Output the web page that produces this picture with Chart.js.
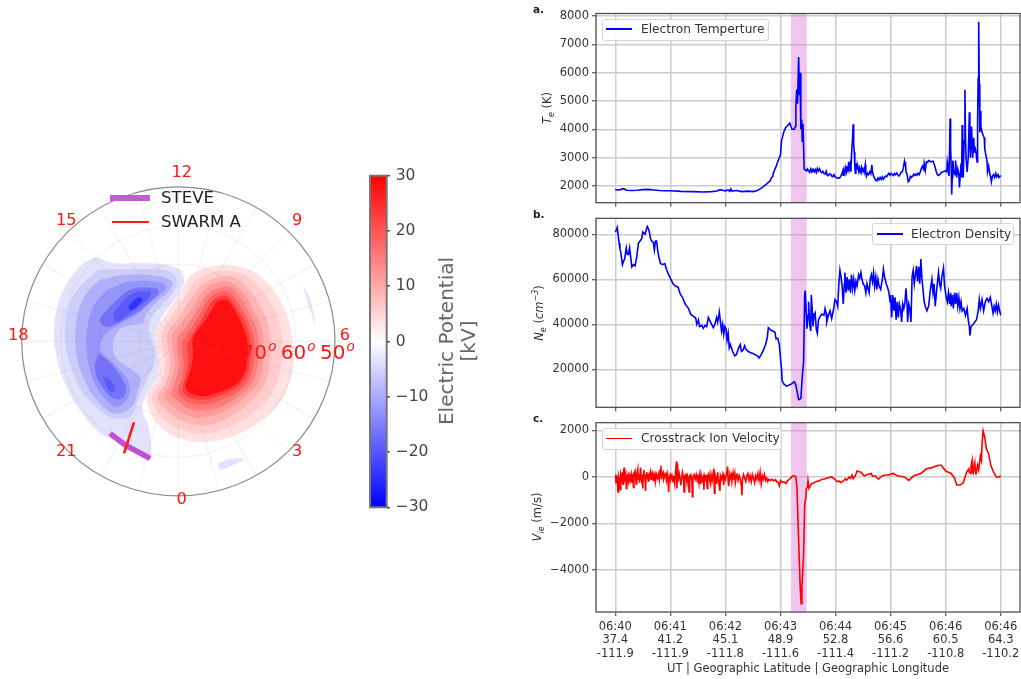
<!DOCTYPE html>
<html>
<head>
<meta charset="utf-8">
<title>STEVE SWARM A</title>
<script src="https://cdn.jsdelivr.net/npm/chart.js@4"></script>
<style>
  html, body { margin: 0; padding: 0; background: #fff; width: 1021px; height: 679px; overflow: hidden; }
  body { position: relative; font-family: "DejaVu Sans", sans-serif; filter: blur(0.45px); }
  canvas, .txt, .legend, .swatch { position: absolute; }
  .txt { white-space: nowrap; color: #333; }
  .rot { transform: translate(-50%, -50%) rotate(-90deg); }
  .legend { background: rgba(255,255,255,0.85); border: 1px solid #d5d5d5; border-radius: 3px; box-sizing: border-box; }
  sub, sup { font-size: 70%; line-height: 0; }
</style>
</head>
<body>
<canvas id="polar" style="left:0;top:150px"></canvas>
<canvas id="cbar" style="left:360px;top:165px"></canvas>
<canvas id="panelA" style="left:530px;top:0"></canvas>
<canvas id="panelB" style="left:530px;top:205px"></canvas>
<canvas id="panelC" style="left:530px;top:415px"></canvas>

<!-- polar legend -->
<div class="swatch" style="left:110px;top:194.5px;width:40px;height:6.5px;background:#c45ad8"></div>
<div class="swatch" style="left:112px;top:220.5px;width:36.5px;height:2.7px;background:#ff1a1a"></div>
<div class="txt" style="left:161px;top:188px;font-size:16.6px;color:#222">STEVE</div>
<div class="txt" style="left:161px;top:212px;font-size:16.6px;color:#222">SWARM A</div>

<!-- colorbar title -->
<div class="txt rot" style="left:446px;top:341px;font-size:20px;color:#666">Electric Potential</div>
<div class="txt rot" style="left:468px;top:341px;font-size:20px;color:#666">[kV]</div>

<!-- panel letters -->
<div class="txt" style="left:533px;top:3px;font-size:10.5px;font-weight:bold;color:#222">a.</div>
<div class="txt" style="left:533px;top:208px;font-size:10.5px;font-weight:bold;color:#222">b.</div>
<div class="txt" style="left:533px;top:412px;font-size:10.5px;font-weight:bold;color:#222">c.</div>

<!-- y axis titles -->
<div class="txt rot" style="left:546.5px;top:108px;font-size:11.5px"><i>T<sub>e</sub></i> (K)</div>
<div class="txt rot" style="left:539px;top:313px;font-size:11.5px"><i>N<sub>e</sub></i> (<i>cm<sup>−3</sup></i>)</div>
<div class="txt rot" style="left:537px;top:517px;font-size:11.5px"><i>V<sub>ie</sub></i> (m/s)</div>

<!-- panel legends -->
<div class="legend" style="left:602px;top:19px;width:167px;height:22px"></div>
<div class="swatch" style="left:606px;top:28.2px;width:26px;height:1.7px;background:#0000ff"></div>
<div class="txt" style="left:641px;top:22px;font-size:12.2px">Electron Temperture</div>

<div class="legend" style="left:872px;top:223px;width:142px;height:22px"></div>
<div class="swatch" style="left:877px;top:233px;width:26px;height:1.7px;background:#0000ff"></div>
<div class="txt" style="left:911px;top:226.5px;font-size:12.2px">Electron Density</div>

<div class="legend" style="left:602px;top:428px;width:180px;height:22px"></div>
<div class="swatch" style="left:606px;top:437.5px;width:26px;height:1.7px;background:#ff0000"></div>
<div class="txt" style="left:641px;top:431px;font-size:12.2px">Crosstrack Ion Velocity</div>

<script>
// tick labels
const utLabels = ['06:40', '06:41', '06:42', '06:43', '06:44', '06:45', '06:46', '06:46'];
const latLabels = ['37.4', '41.2', '45.1', '48.9', '52.8', '56.6', '60.5', '64.3'];
const lonLabels = ['-111.9', '-111.9', '-111.8', '-111.6', '-111.4', '-111.2', '-110.8', '-110.2'];
const xTicks = [0, 1, 2, 3, 4, 5, 6, 7];
const teTicks = [2000, 3000, 4000, 5000, 6000, 7000, 8000];
const neTicks = [20000, 40000, 60000, 80000];
const viTicks = [-4000, -2000, 0, 2000];
const cbarTicks = [-30, -20, -10, 0, 10, 20, 30];

// STEVE crossing, in minutes after 06:40
const steveSpan = [3.19, 3.477];

// [minutes after 06:40, value]
const teSeries = [[0,1870],[.05,1860],[.1,1870],[.13,1905],[.17,1890],[.2,1850],[.3,1840],[.4,1850],[.5,1870],[.6,1880],[.7,1860],[.8,1840],[.9,1830],[1,1830],[1.2,1810],[1.4,1800],[1.6,1790],[1.75,1800],[1.85,1820],[1.9,1870],[1.95,1850],[2,1830],[2.05,1860],[2.08,1810],[2.1,1900],[2.12,1820],[2.2,1840],[2.3,1800],[2.4,1820],[2.5,1800],[2.57,1830],[2.63,1900],[2.69,1980],[2.74,2060],[2.78,2130],[2.81,2170],[2.84,2300],[2.86,2330],[2.87,2450],[2.9,2600],[2.92,2680],[2.94,2800],[2.96,2900],[2.98,3000],[3,3100],[3.02,3600],[3.04,3750],[3.06,3900],[3.09,4050],[3.11,4100],[3.14,4150],[3.17,4220],[3.19,4100],[3.21,4000],[3.25,4000],[3.27,4100],[3.28,4800],[3.295,5400],[3.31,4900],[3.33,6550],[3.345,5200],[3.355,6000],[3.37,4000],[3.385,4350],[3.395,3550],[3.41,4200],[3.43,2600],[3.477,2530],[3.49,2600],[3.51,2540],[3.53,2480],[3.55,2600],[3.57,2500],[3.59,2590],[3.61,2500],[3.63,2580],[3.65,2480],[3.67,2620],[3.69,2530],[3.71,2600],[3.73,2500],[3.75,2470],[3.77,2520],[3.79,2440],[3.81,2420],[3.83,2520],[3.85,2380],[3.87,2370],[3.89,2430],[3.91,2420],[3.93,2350],[3.95,2330],[3.97,2400],[3.99,2330],[4.01,2300],[4.03,2290],[4.05,2270],[4.07,2280],[4.09,2330],[4.11,2400],[4.13,2520],[4.14,2380],[4.15,2560],[4.17,2450],[4.18,2650],[4.2,2500],[4.21,2700],[4.22,2500],[4.24,2850],[4.25,2600],[4.27,2800],[4.28,2500],[4.29,3100],[4.31,3700],[4.32,4180],[4.33,3500],[4.34,3200],[4.35,2700],[4.36,2450],[4.37,2800],[4.39,2600],[4.4,2700],[4.42,2520],[4.43,2650],[4.45,2500],[4.47,2650],[4.48,2500],[4.5,2600],[4.52,2480],[4.54,2750],[4.55,2450],[4.56,2340],[4.58,2450],[4.6,2400],[4.62,2500],[4.64,2430],[4.66,2750],[4.67,2500],[4.69,2350],[4.71,2280],[4.73,2200],[4.75,2180],[4.77,2280],[4.79,2220],[4.81,2300],[4.83,2230],[4.85,2320],[4.87,2240],[4.89,2300],[4.91,2350],[4.93,2330],[4.95,2400],[4.97,2450],[4.99,2380],[5.01,2440],[5.03,2400],[5.05,2370],[5.07,2440],[5.09,2400],[5.11,2460],[5.13,2400],[5.15,2350],[5.17,2400],[5.19,2480],[5.21,2500],[5.23,2620],[5.25,2850],[5.26,2700],[5.27,2850],[5.28,2500],[5.3,2400],[5.32,2150],[5.34,2200],[5.36,2340],[5.38,2300],[5.4,2350],[5.42,2420],[5.44,2370],[5.46,2420],[5.48,2380],[5.5,2450],[5.52,2400],[5.54,2500],[5.56,2620],[5.58,2700],[5.6,2600],[5.61,2800],[5.63,2550],[5.65,2850],[5.67,2830],[5.69,2900],[5.71,2880],[5.73,2850],[5.75,2860],[5.77,2880],[5.79,2780],[5.81,2650],[5.83,2500],[5.85,2400],[5.87,2370],[5.89,2400],[5.92,2470],[5.95,2500],[5.98,2520],[6,2540],[6.02,2500],[6.03,2850],[6.05,2600],[6.06,2350],[6.07,3200],[6.08,4380],[6.09,3400],[6.1,2700],[6.11,1700],[6.12,2300],[6.13,2900],[6.15,2500],[6.17,2400],[6.18,2900],[6.2,2300],[6.22,2600],[6.24,2400],[6.25,1950],[6.27,2500],[6.28,2800],[6.29,2300],[6.3,4150],[6.31,3000],[6.32,2300],[6.335,3600],[6.35,5400],[6.36,3800],[6.37,3000],[6.39,2500],[6.41,3000],[6.43,4600],[6.44,3600],[6.45,3000],[6.47,4100],[6.48,3500],[6.49,3000],[6.51,3700],[6.52,3200],[6.53,3400],[6.55,3200],[6.57,2850],[6.58,4300],[6.59,5800],[6.6,7800],[6.61,5600],[6.62,3900],[6.63,4650],[6.64,4100],[6.66,3900],[6.68,3800],[6.7,3700],[6.71,3300],[6.73,3100],[6.75,2900],[6.76,2500],[6.78,2700],[6.8,2450],[6.82,2300],[6.83,2150],[6.85,2350],[6.87,2400],[6.89,2300],[6.91,2450],[6.93,2330],[6.95,2400],[6.97,2300],[7,2370]];

const neSeries = [[0,81000],[.02,82000],[.036,83000],[.05,80000],[.07,76000],[.085,73500],[.1,72000],[.13,66500],[.15,68000],[.17,69000],[.2,74000],[.22,71000],[.24,71000],[.26,74000],[.28,70000],[.3,65500],[.33,66500],[.36,66000],[.39,70000],[.42,76000],[.45,77000],[.48,78000],[.5,81000],[.54,80000],[.58,83500],[.6,82500],[.62,81000],[.64,78000],[.66,77000],[.69,76500],[.71,73000],[.73,77000],[.75,77000],[.77,73000],[.79,70000],[.82,67000],[.86,66500],[.9,67000],[.93,64500],[.96,62500],[1,60500],[1.05,58000],[1.09,57000],[1.14,56500],[1.18,53500],[1.22,52000],[1.27,49000],[1.33,47000],[1.37,44500],[1.42,43500],[1.46,42800],[1.48,40000],[1.51,42000],[1.53,39000],[1.57,39500],[1.6,38200],[1.63,39500],[1.66,39000],[1.69,43000],[1.72,41500],[1.75,40000],[1.78,38500],[1.81,40000],[1.84,43000],[1.86,41000],[1.89,45500],[1.91,41000],[1.93,37000],[1.95,40000],[1.97,35500],[1.99,39000],[2.01,38000],[2.03,33000],[2.05,36000],[2.07,29500],[2.09,31000],[2.13,28000],[2.17,26000],[2.2,26500],[2.24,29500],[2.27,31000],[2.29,28000],[2.32,28500],[2.35,30500],[2.37,29000],[2.41,28000],[2.45,27500],[2.5,27000],[2.54,26500],[2.58,26000],[2.61,25000],[2.65,26500],[2.69,28500],[2.73,31000],[2.76,34000],[2.78,38500],[2.82,37500],[2.86,37000],[2.9,36500],[2.92,33500],[2.95,33800],[2.98,31000],[3,25000],[3.02,20000],[3.03,15000],[3.06,13500],[3.11,12500],[3.16,13000],[3.2,13500],[3.25,14500],[3.28,13000],[3.295,11000],[3.33,6500],[3.37,7000],[3.4,18000],[3.42,23000],[3.44,53000],[3.45,55000],[3.47,44000],[3.48,38000],[3.5,44000],[3.51,50000],[3.53,40000],[3.55,37000],[3.56,53000],[3.58,45000],[3.59,39000],[3.61,44000],[3.63,45000],[3.65,38000],[3.67,36000],[3.69,42000],[3.71,43000],[3.75,44500],[3.79,44000],[3.81,47000],[3.83,45000],[3.84,41000],[3.87,44000],[3.9,46000],[3.93,42500],[3.96,46000],[3.99,51000],[4.02,50000],[4.04,48000],[4.06,58000],[4.08,64000],[4.1,61000],[4.12,57000],[4.14,49000],[4.16,58000],[4.17,63000],[4.19,54000],[4.21,61000],[4.23,55000],[4.25,60000],[4.27,54000],[4.29,62000],[4.31,56000],[4.33,60000],[4.35,55000],[4.37,59000],[4.39,57000],[4.42,62000],[4.44,60500],[4.46,63000],[4.48,60000],[4.5,58000],[4.53,57000],[4.55,54000],[4.57,58000],[4.59,56000],[4.61,54000],[4.63,60000],[4.65,62000],[4.67,59000],[4.69,63000],[4.71,57000],[4.73,61000],[4.75,55500],[4.77,60000],[4.79,57000],[4.82,55500],[4.85,60000],[4.87,64500],[4.89,61000],[4.92,58000],[4.95,56000],[4.97,54000],[4.99,50000],[5,53000],[5.02,43000],[5.04,53000],[5.06,46000],[5.08,52000],[5.1,42000],[5.12,50000],[5.14,43000],[5.16,49000],[5.18,47000],[5.2,41000],[5.22,49000],[5.24,47000],[5.26,49500],[5.28,56000],[5.3,48000],[5.31,41000],[5.33,49000],[5.35,47000],[5.37,41000],[5.39,61000],[5.41,64000],[5.43,58000],[5.45,62000],[5.47,66000],[5.49,59000],[5.51,65500],[5.53,58000],[5.55,69000],[5.57,60000],[5.59,55000],[5.61,50000],[5.63,48000],[5.66,46000],[5.69,48000],[5.72,55000],[5.75,60000],[5.77,54000],[5.79,58000],[5.81,48000],[5.84,56000],[5.87,63000],[5.89,58000],[5.91,56000],[5.93,61000],[5.96,65000],[5.98,57000],[6.01,52000],[6.03,50000],[6.05,54000],[6.07,49000],[6.09,54000],[6.1,48000],[6.12,53000],[6.14,47000],[6.16,54000],[6.18,49000],[6.2,54000],[6.22,48000],[6.24,52000],[6.26,47000],[6.28,50000],[6.3,46000],[6.33,47000],[6.36,44000],[6.39,47000],[6.41,42000],[6.43,39000],[6.44,35000],[6.46,39000],[6.5,40000],[6.53,41000],[6.56,42000],[6.59,46000],[6.61,51000],[6.63,47000],[6.66,51000],[6.69,46000],[6.72,50000],[6.75,51500],[6.78,50000],[6.81,52000],[6.84,48000],[6.86,45000],[6.88,48000],[6.9,46000],[6.92,49000],[6.94,45500],[6.96,48500],[6.98,46000],[7,44000]];

const viSeries = [[0,-250],[.01,100],[.02,-100],[.03,50],[.05,-650],[.06,50],[.07,-50],[.09,-550],[.1,100],[.12,-100],[.13,200],[.14,-350],[.15,150],[.16,400],[.17,-100],[.19,100],[.2,-500],[.21,0],[.23,100],[.24,-200],[.26,50],[.27,-150],[.29,100],[.3,-250],[.32,0],[.33,-450],[.34,100],[.36,250],[.38,-300],[.39,100],[.41,350],[.42,-100],[.43,100],[.44,-250],[.46,400],[.47,-100],[.48,-200],[.49,100],[.5,-500],[.51,100],[.52,300],[.53,-100],[.54,100],[.55,-600],[.56,50],[.57,200],[.59,-50],[.6,150],[.61,-200],[.62,100],[.64,250],[.65,-100],[.66,100],[.68,200],[.69,-150],[.7,50],[.72,150],[.73,-200],[.75,100],[.77,-50],[.79,150],[.8,-100],[.82,300],[.83,480],[.84,-100],[.85,100],[.87,200],[.88,-100],[.9,50],[.92,150],[.93,-150],[.95,100],[.96,-250],[.97,-650],[.98,0],[1,100],[1.01,-100],[1.03,50],[1.05,-200],[1.06,50],[1.08,-300],[1.09,50],[1.11,660],[1.12,-500],[1.13,550],[1.14,-200],[1.16,150],[1.18,-100],[1.19,-350],[1.21,50],[1.22,200],[1.24,-100],[1.25,-650],[1.26,50],[1.28,100],[1.3,-250],[1.31,50],[1.33,-100],[1.34,-650],[1.35,50],[1.37,100],[1.39,-200],[1.4,-850],[1.41,0],[1.43,100],[1.45,-100],[1.47,100],[1.49,-200],[1.5,100],[1.52,-250],[1.53,50],[1.55,-300],[1.56,100],[1.58,-150],[1.6,0],[1.61,-550],[1.62,50],[1.64,-100],[1.65,100],[1.67,-500],[1.68,50],[1.7,150],[1.71,-100],[1.73,-300],[1.74,100],[1.76,-150],[1.79,350],[1.8,-700],[1.81,100],[1.83,-100],[1.84,-300],[1.86,200],[1.87,-100],[1.88,-250],[1.9,-600],[1.91,50],[1.93,-100],[1.95,100],[1.97,-350],[1.98,50],[2,-100],[2.02,100],[2.04,450],[2.05,-200],[2.06,-400],[2.08,100],[2.09,-50],[2.11,100],[2.12,-200],[2.14,150],[2.15,-100],[2.17,150],[2.18,-250],[2.2,50],[2.21,150],[2.23,-150],[2.25,50],[2.27,-100],[2.29,-400],[2.3,-800],[2.31,-100],[2.33,100],[2.35,-50],[2.37,-200],[2.39,50],[2.41,150],[2.43,-150],[2.45,50],[2.47,-200],[2.49,100],[2.51,-50],[2.53,-250],[2.55,50],[2.57,-100],[2.59,150],[2.61,-150],[2.63,200],[2.65,-300],[2.67,50],[2.69,-100],[2.71,100],[2.73,-150],[2.75,-50],[2.77,-200],[2.79,-100],[2.82,-150],[2.85,-100],[2.88,-170],[2.91,-120],[2.94,-220],[2.96,-250],[2.98,-380],[3,-150],[3.03,-230],[3.06,-200],[3.1,-280],[3.13,-170],[3.16,-100],[3.19,-40],[3.22,40],[3.25,50],[3.28,0],[3.3,-500],[3.32,-2000],[3.345,-3800],[3.36,-4800],[3.375,-5450],[3.39,-4700],[3.405,-4000],[3.42,-3300],[3.44,-1200],[3.46,-900],[3.47,-500],[3.49,-450],[3.5,-150],[3.52,-500],[3.56,-300],[3.6,-260],[3.65,-200],[3.7,-180],[3.75,-100],[3.8,-90],[3.85,-50],[3.93,0],[3.99,-100],[4.03,-200],[4.07,-180],[4.1,-250],[4.15,-150],[4.18,-80],[4.2,-140],[4.25,0],[4.27,-60],[4.3,80],[4.32,-70],[4.36,50],[4.39,250],[4.46,200],[4.52,50],[4.58,100],[4.65,150],[4.67,30],[4.72,50],[4.78,-100],[4.85,50],[4.92,80],[4.98,100],[5.05,150],[5.12,50],[5.25,0],[5.33,-150],[5.42,50],[5.55,150],[5.65,350],[5.75,400],[5.87,500],[5.92,500],[6,250],[6.1,150],[6.16,-50],[6.2,-350],[6.26,-350],[6.32,-250],[6.38,200],[6.42,350],[6.43,200],[6.45,150],[6.46,450],[6.48,700],[6.49,200],[6.5,150],[6.53,600],[6.54,300],[6.55,100],[6.58,500],[6.6,300],[6.63,900],[6.65,700],[6.66,1400],[6.68,1980],[6.71,1700],[6.74,1200],[6.78,1000],[6.82,500],[6.87,200],[6.92,0],[6.97,0],[7,50]];

// polar map: contour outlines, in map units
const mapPole = [53.5, 57.4];
const ringLats = [80, 70, 60, 50];
const hourLabels = [12, 15, 18, 21, 0, 3, 6, 9];
const steveTrack = [[33,85],[37.5,88.5],[45,92.5]];
const swarmTrack = [[40.2,81.7],[37.2,91]];

const blueLevels = [
  {c:'#e2e2fc', p:[[29,32.2],[34,34],[42,34],[50,34.5],[54,36],[55.2,39],[54,42.5],[51,46.5],[48,51],[46.5,56],[48,62],[47,68],[44.5,72],[42.5,77],[44.5,83],[45.2,88],[44.8,93],[40,90.5],[34,87],[29,84],[24,78],[19.5,70],[17,62],[16.2,55],[17.5,46],[20.5,39.5],[25,34]]},
  {c:'#e2e2fc', p:[[91,41],[93,45],[94.5,52],[93.5,49],[91.5,43]]},
  {c:'#e2e2fc', p:[[65.5,94],[69,92.8],[73,92.8],[70,94.5],[66,95.8]]},
  {c:'#cdcdfa', p:[[29.5,36],[42,35.8],[51,36.5],[53,39],[52,42.5],[49,46],[46.2,49],[44.5,53],[45.5,57],[46.5,62],[44.5,68],[42.5,72],[41,76],[39,80],[33,80],[25,73],[21,64],[19.5,56],[20.5,47],[24,41]]},
  {c:'#b0b0fa', p:[[30,39],[38,37.5],[47,37.8],[51.5,39.5],[50.5,42.5],[47,45.5],[44,49],[42.5,52],[37,53],[34,57],[34.5,62],[38,65],[42,68],[41,73],[39.5,77],[34.5,79],[29,75],[25,68],[22.8,60],[23.2,50],[26,43]]},
  {c:'#9595fa', p:[[32,42],[39,39.5],[46,39.5],[49.5,40.5],[49,42.5],[45,45.5],[41.5,49],[36,52],[31,56],[30,60],[34,64],[38.5,69.5],[38.5,74],[35,77],[31,74],[28,69],[26.2,62],[26.2,54],[28,47]]},
  {c:'#7373fa', p:[[33,47],[39,42],[46.5,41.5],[47.5,43],[42,48],[37,51],[32,53],[30,51]]},
  {c:'#7373fa', p:[[29.5,61],[33,64],[37.5,70.5],[37,74],[34,74.5],[30,70],[28.5,65]]},
  {c:'#5a5afa', p:[[34,49],[39,43.5],[45,42.5],[44.5,44.5],[40,48],[35,51.5]]},
  {c:'#5a5afa', p:[[31,68],[33,69],[34.5,72],[33,72.5]]},
  {c:'#3232ff', p:[[38.5,47],[41,44.5],[42.5,44.5],[42,46],[39.5,48]]}
];

const redLevels = [
  {c:'#ffe1e1', p:[[61,35.5],[68,34.5],[76,36.5],[82,42],[86.5,51],[88,62],[86,72],[81,79],[72,85],[62,87.5],[54,86.5],[48,83],[44.5,77],[44.2,73.5],[47,69],[48,64],[47,59],[47,54],[50,49],[54,43],[57,38]]},
  {c:'#ffcdcd', p:[[62,37.2],[68,36.2],[74.5,38.2],[80,44],[83.8,52],[84.5,62],[82.5,71],[78,77],[70,82.5],[62,85],[54.5,84],[49,80.5],[46,76],[45.8,73.5],[48.5,69.5],[49.7,64],[48.7,59],[48.7,54.5],[51.5,50],[55.5,44],[58.5,39.5]]},
  {c:'#ffb4b4', p:[[62.5,39.2],[68,37.8],[73,40],[77.5,46],[80.5,53],[81,62],[79.5,70],[75,75.5],[69,80],[62,82.5],[55.5,81.5],[50.5,78.5],[47.5,75],[47.5,73.5],[50,69.5],[51.2,64],[50.3,59],[50.3,55],[53,51],[56.8,45.5],[59.8,41]]},
  {c:'#ff9b9b', p:[[63.2,40.5],[68,39.5],[72.2,42],[76,48],[78.5,54],[79,62],[77.5,69.5],[73,74.5],[68,78],[62,80],[56,79.5],[51.5,76.5],[49.5,74],[51,70],[52.5,64],[51.8,59.5],[51.8,55.5],[54.5,52],[58,47],[60.8,42.5]]},
  {c:'#ff7d7d', p:[[64,42],[68,41],[71.5,43.5],[75,49.5],[77.2,55],[77.5,62],[76,69],[72,73.5],[67,76.5],[62,78],[56.5,77.5],[53,75],[51.5,73.5],[52.5,70],[53.8,64.5],[53.3,60],[53.3,56.5],[56,53],[59,48.5],[61.8,44]]},
  {c:'#ff5f5f', p:[[64.5,43.2],[68,42.5],[70.8,45],[74.2,51],[76,56],[76.2,62],[74.8,68.5],[71.2,72.5],[66,75],[62,76.2],[57,75.8],[54,73.8],[53.5,72],[54.5,69],[55.2,64.5],[54.8,60.5],[54.8,57.5],[57.2,54],[60,49.5],[62.5,45]]},
  {c:'#ff3c3c', p:[[65,44.2],[68,43.8],[70.2,46.2],[73.5,52],[75,57],[75,62.5],[73.8,68],[70.5,71.5],[65.5,73.8],[62,74.8],[57.5,74.5],[55,72.5],[55.2,70],[56.2,66],[56.5,62],[56.2,58.5],[58,55],[60.8,50.5],[63.2,46]]},
  {c:'#ff0f0f', p:[[65.5,45.2],[68,45],[69.8,47.2],[72.8,53],[74.2,58],[74,63],[73,67.5],[69.8,70.8],[65,72.8],[61.5,73.8],[58,73.3],[55.8,71.5],[56.2,69],[57.5,65],[58,61],[57.8,57],[59,54.5],[61.8,51],[64,47]]}
];

// colour of the potential scale, -30 blue, 0 white, +30 red
const potentialStops = ['#0000ff', '#ffffff', '#ff0000'];

const FONT = 'DejaVu Sans';
const TEXT = '#333';

function toPoints(pairs) {
  return pairs.map(p => ({ x: p[0], y: p[1] }));
}

// keep tick labels from pushing the axes around
function noTickOverhang(s) {
  s.paddingTop = 0; s.paddingBottom = 0; s.paddingLeft = 0; s.paddingRight = 0;
}

// box around the axes
const framePlugin = {
  id: 'frame',
  afterDatasetsDraw(chart, args, opts) {
    const a = chart.chartArea, ctx = chart.ctx;
    ctx.save();
    ctx.strokeStyle = opts.color || '#444';
    ctx.lineWidth = opts.width || 1.2;
    ctx.strokeRect(a.left, a.top, a.right - a.left, a.bottom - a.top);
    ctx.restore();
  }
};

// shaded STEVE interval, under the line
const spanPlugin = {
  id: 'span',
  beforeDatasetsDraw(chart) {
    const a = chart.chartArea, ctx = chart.ctx, x = chart.scales.x;
    const x0 = x.getPixelForValue(steveSpan[0]), x1 = x.getPixelForValue(steveSpan[1]);
    ctx.save();
    ctx.fillStyle = 'rgba(214,120,220,0.42)';
    ctx.fillRect(x0, a.top, x1 - x0, a.bottom - a.top);
    ctx.restore();
  }
};

function makePanel(id, width, height, pad, xHeight, series, color, yMin, yMax, yTicks, showLabels) {
  const canvas = document.getElementById(id);
  canvas.width = width; canvas.height = height;
  canvas.style.width = width + 'px'; canvas.style.height = height + 'px';
  new Chart(canvas, {
    type: 'line',
    data: { datasets: [{ data: toPoints(series), borderColor: color, borderWidth: 1.6, pointRadius: 0, tension: 0, fill: false }] },
    plugins: [spanPlugin, framePlugin],
    options: {
      responsive: false, animation: false, devicePixelRatio: 1,
      layout: { padding: { top: pad, right: 1, left: 0, bottom: 0 } },
      plugins: { legend: { display: false }, tooltip: { enabled: false }, frame: {} },
      scales: {
        x: {
          type: 'linear', min: -0.35, max: 7.35,
          afterBuildTicks(s) { s.ticks = xTicks.map(v => ({ value: v })); },
          afterFit(s) { s.height = xHeight; noTickOverhang(s); },
          grid: { color: '#cccccc', lineWidth: 1.5, tickColor: '#333', tickWidth: 1, tickLength: 4 },
          ticks: {
            autoSkip: false, maxRotation: 0, padding: 4.5, color: TEXT,
            font: { family: FONT, size: 11.5, lineHeight: 1.16 },
            callback: v => showLabels ? [utLabels[v], latLabels[v], lonLabels[v]] : ''
          },
          title: {
            display: showLabels, text: 'UT | Geographic Latitude | Geographic Longitude',
            color: TEXT, font: { family: FONT, size: 11.5 }, padding: { top: 2, bottom: 3 }
          }
        },
        y: {
          min: yMin, max: yMax,
          afterBuildTicks(s) { s.ticks = yTicks.map(v => ({ value: v })); },
          afterFit(s) { s.width = 66; noTickOverhang(s); },
          grid: { color: '#cccccc', lineWidth: 1.5, tickColor: '#333', tickWidth: 1, tickLength: 4 },
          ticks: {
            padding: 3, color: TEXT, font: { family: FONT, size: 11.5 },
            callback: v => String(v).replace('-', '\u2212')
          }
        }
      }
    }
  });
}

makePanel('panelA', 491, 210, 13.5, 7.3, teSeries, '#0000ff', 1410, 8088, teTicks, false);
makePanel('panelB', 491, 210, 13.3, 7.7, neSeries, '#0000ff', 3110, 87100, neTicks, false);
makePanel('panelC', 491, 264, 7.7, 67, viSeries, '#ff0000', -5804, 2330, viTicks, true);

// polar rings, spokes and red labels, placed through the map scales
const polarGridPlugin = {
  id: 'polarGrid',
  afterDatasetsDraw(chart) {
    const ctx = chart.ctx, sx = chart.scales.x, sy = chart.scales.y;
    const cx = sx.getPixelForValue(mapPole[0]), cy = sy.getPixelForValue(mapPole[1]);
    const rx = sx.width / 2, ry = sy.height / 2;
    ctx.save();
    ctx.strokeStyle = 'rgba(120,120,120,0.09)';
    ctx.lineWidth = 1.2;
    for (let h = 0; h < 24; h++) {
      const t = h / 24 * 2 * Math.PI;
      ctx.beginPath();
      ctx.moveTo(cx + rx * 0.08 * Math.sin(t), cy + ry * 0.08 * Math.cos(t));
      ctx.lineTo(cx + rx * Math.sin(t), cy + ry * Math.cos(t));
      ctx.stroke();
    }
    ringLats.forEach(lat => {
      const f = (90 - lat) / 40;
      ctx.beginPath();
      ctx.ellipse(cx, cy, rx * f, ry * f, 0, 0, 2 * Math.PI);
      if (lat === 50) { ctx.strokeStyle = '#8a8a8a'; ctx.lineWidth = 1.2; }
      ctx.stroke();
    });
    ctx.fillStyle = '#ff1616';
    ctx.textAlign = 'center';
    ctx.textBaseline = 'middle';
    ctx.font = '16.2px "' + FONT + '"';
    hourLabels.forEach(h => {
      const t = (h - 12) / 24 * 2 * Math.PI;
      const x = sx.getPixelForValue(54.5 - 49 * Math.sin(t));
      const y = sy.getPixelForValue(55.5 - 49 * Math.cos(t));
      ctx.fillText(String(h), x, y + 1);
    });
    ringLats.forEach(lat => {
      const f = (90 - lat) / 40;
      const x = sx.getPixelForValue(mapPole[0] + 47 * f + 0.5);
      const y = sy.getPixelForValue(60.7);
      ctx.font = '20px "' + FONT + '"';
      ctx.textAlign = 'center';
      ctx.fillText(String(lat), x - 4, y + 1);
      ctx.font = 'italic 13.5px "' + FONT + '"';
      ctx.fillText('o', x + 14, y - 5);
    });
    ctx.restore();
  }
};

const polarDatasets = [];
blueLevels.concat(redLevels).forEach(level => {
  polarDatasets.push({
    data: toPoints(level.p.concat([level.p[0]])),
    backgroundColor: level.c, borderColor: level.c, borderWidth: 0.5,
    fill: 'shape', tension: 0.35, pointRadius: 0
  });
});
polarDatasets.push({ data: toPoints(steveTrack), borderColor: '#c050d4', borderWidth: 5.5, pointRadius: 0, fill: false });
polarDatasets.push({ data: toPoints(swarmTrack), borderColor: '#ff1a1a', borderWidth: 2.6, pointRadius: 0, fill: false });
// later entries go on top
polarDatasets.forEach((d, i) => { d.order = polarDatasets.length - i; });

const polarCanvas = document.getElementById('polar');
polarCanvas.width = 360; polarCanvas.height = 360;
polarCanvas.style.width = '360px'; polarCanvas.style.height = '360px';
new Chart(polarCanvas, {
  type: 'line',
  data: { datasets: polarDatasets },
  plugins: [polarGridPlugin],
  options: {
    responsive: false, animation: false, devicePixelRatio: 1,
    layout: { padding: { left: 21.7, right: 25, top: 36.7, bottom: 14.3 } },
    plugins: { legend: { display: false }, tooltip: { enabled: false } },
    scales: {
      x: { type: 'linear', min: 6.5, max: 100.5, display: false },
      y: { type: 'linear', min: 11, max: 103.7, reverse: true, display: false }
    }
  }
});

// colorbar: one floating bar with the potential gradient
const cbarCanvas = document.getElementById('cbar');
cbarCanvas.width = 90; cbarCanvas.height = 360;
cbarCanvas.style.width = '90px'; cbarCanvas.style.height = '360px';
new Chart(cbarCanvas, {
  type: 'bar',
  data: {
    labels: [''],
    datasets: [{
      data: [[cbarTicks[0], cbarTicks[cbarTicks.length - 1]]],
      barPercentage: 1, categoryPercentage: 1,
      backgroundColor(ctx) {
        const a = ctx.chart.chartArea;
        if (!a) return potentialStops[0];
        const g = ctx.chart.ctx.createLinearGradient(0, a.bottom, 0, a.top);
        potentialStops.forEach((c, i) => g.addColorStop(i / (potentialStops.length - 1), c));
        return g;
      }
    }]
  },
  plugins: [framePlugin],
  options: {
    responsive: false, animation: false, devicePixelRatio: 1,
    layout: { padding: { left: 10, top: 10.7, bottom: 17.7, right: 0 } },
    plugins: { legend: { display: false }, tooltip: { enabled: false }, frame: { color: '#777', width: 2 } },
    scales: {
      x: { display: false },
      y: {
        position: 'right', min: -30, max: 30,
        afterBuildTicks(s) { s.ticks = cbarTicks.map(v => ({ value: v })); },
        afterFit(s) { s.width = 63.3; noTickOverhang(s); },
        grid: { display: true, drawOnChartArea: false, tickColor: '#333', tickLength: 3, lineWidth: 1.5 },
        border: { display: false },
        ticks: {
          padding: 6, color: '#444', font: { family: FONT, size: 15.5 },
          callback: v => String(v).replace('-', '\u2212')
        }
      }
    }
  }
});
</script>
</body>
</html>
